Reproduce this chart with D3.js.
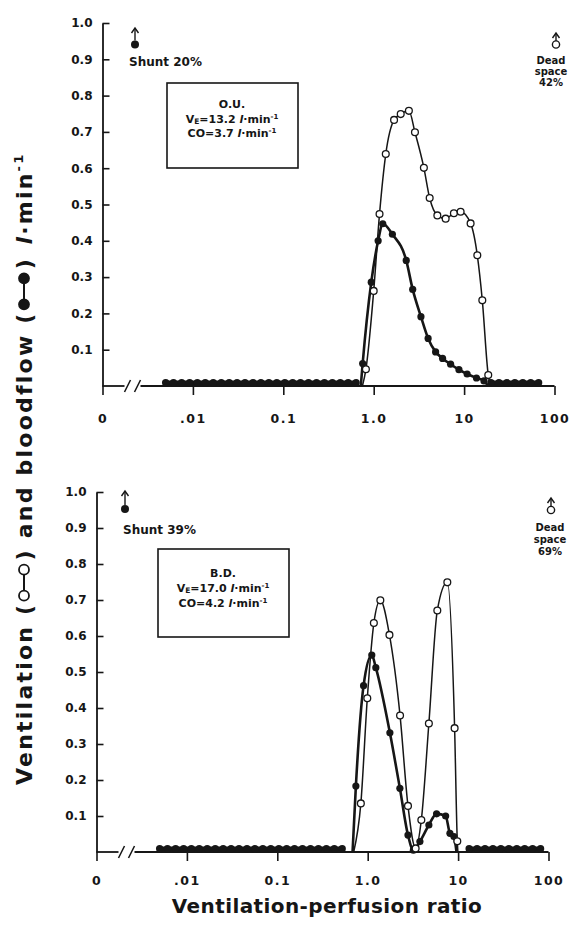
<!DOCTYPE html>
<html>
<head>
<meta charset="utf-8">
<script src="https://cdn.jsdelivr.net/npm/d3@7"></script>
<style>
  body { margin: 0; background: #fff; }
  svg { display: block; font-family: "DejaVu Sans", sans-serif; font-weight: bold; }
</style>
</head>
<body>
<div id="chart"></div>
<script>
// tick values and labels (0 drawn at the .001 position, axis broken after it)
var xTicks = [0.001, 0.01, 0.1, 1, 10, 100];
var xTickLabels = ['0', '.01', '0.1', '1.0', '10', '100'];
var yTicks = [0.1, 0.2, 0.3, 0.4, 0.5, 0.6, 0.7, 0.8, 0.9, 1.0];
var yTickLabels = ['0.1', '0.2', '0.3', '0.4', '0.5', '0.6', '0.7', '0.8', '0.9', '1.0'];

// subject info
var patients = ['O.U.', 'B.D.'];
var ventE = ['13.2', '17.0'];
var cardiacOutput = ['3.7', '4.2'];
var shuntPct = [20, 39];
var deadSpacePct = [42, 69];

// compartments with no flow, drawn as dots resting on the axis
var flatValue = 0.009;
var topFlatLow = [0.005, 0.0061, 0.0075, 0.0092, 0.0112, 0.0137, 0.0168, 0.0206, 0.0252, 0.0308, 0.0377, 0.0462, 0.0565, 0.0692, 0.0847, 0.104, 0.127, 0.155, 0.19, 0.233, 0.285, 0.349, 0.427, 0.522, 0.639];
var topFlatHigh = [19.85, 24.3, 29.7, 36.4, 44.6, 54.5, 66.7];
var botFlatLow = [0.005, 0.0061, 0.0075, 0.0092, 0.0112, 0.0137, 0.0168, 0.0206, 0.0252, 0.0308, 0.0377, 0.0462, 0.0565, 0.0692, 0.0847, 0.104, 0.127, 0.155, 0.19, 0.233, 0.285, 0.349, 0.427, 0.522];
var botFlatHigh = [13.25, 16.2, 19.85, 24.3, 29.7, 36.4, 44.6, 54.5, 66.7, 81.7];

// O.U. ventilation (open circles)
var topVentRatio = [0.82, 1.0, 1.16, 1.36, 1.68, 1.99, 2.45, 2.86, 3.59, 4.16, 5.06, 6.25, 7.71, 9.15, 11.8, 14.0, 15.9, 18.5];
var topVentValue = [0.046, 0.262, 0.474, 0.639, 0.733, 0.749, 0.758, 0.699, 0.601, 0.518, 0.470, 0.461, 0.476, 0.480, 0.448, 0.360, 0.236, 0.030];
var topVentEnds = [0.75, 19.6];
// O.U. bloodflow (filled)
var topBloodRatio = [0.755, 0.94, 1.12, 1.26, 1.61, 2.29, 2.70, 3.33, 4.00, 4.84, 5.78, 7.09, 8.77, 10.8, 13.7, 16.6];
var topBloodValue = [0.062, 0.286, 0.400, 0.447, 0.418, 0.346, 0.266, 0.191, 0.131, 0.094, 0.076, 0.060, 0.045, 0.033, 0.022, 0.014];
var topBloodEnds = [0.72, 18.5];

// B.D. ventilation (open circles)
var botVentRatio = [0.84, 0.99, 1.17, 1.38, 1.74, 2.28, 2.79, 3.39, 3.92, 4.75, 5.89, 7.60, 9.15, 9.8];
var botVentValue = [0.135, 0.427, 0.636, 0.699, 0.603, 0.379, 0.128, 0.010, 0.089, 0.357, 0.671, 0.749, 0.344, 0.030];
var botVentEnds = [0.70, 9.95];
// B.D. bloodflow (filled)
var botBloodRatio = [0.74, 0.90, 1.11, 1.23, 1.76, 2.27, 2.79, 3.2, 3.78, 4.75, 5.78, 7.28, 8.12, 8.99];
var botBloodValue = [0.183, 0.462, 0.547, 0.512, 0.331, 0.177, 0.047, 0.005, 0.029, 0.075, 0.106, 0.100, 0.052, 0.043];
var botBloodEnds = [0.68, 9.6];

var ink = '#161616';

var svg = d3.select('#chart').append('svg')
  .attr('width', 570)
  .attr('height', 929);

var panels = [
  {
    i: 0, xr: [102.5, 554.5], yr: [386, 23], labelPad: 19,
    flat: [topFlatLow, topFlatHigh],
    vent: {r: topVentRatio, v: topVentValue, ends: topVentEnds},
    blood: {r: topBloodRatio, v: topBloodValue, ends: topBloodEnds},
    box: {x: 167, y: 83, w: 131, h: 85, lineY: [108, 123, 137], cx: 232},
    shunt: {x: 135, cy: 44.5, top: 28, tx: 129, ty: 66},
    dead: {x: 556, cy: 44.5, top: 33, tx: 551, ty: [64, 75, 86]}
  },
  {
    i: 1, xr: [96.5, 548.5], yr: [852, 492], labelPad: 15,
    flat: [botFlatLow, botFlatHigh],
    vent: {r: botVentRatio, v: botVentValue, ends: botVentEnds},
    blood: {r: botBloodRatio, v: botBloodValue, ends: botBloodEnds},
    box: {x: 158, y: 549, w: 131, h: 88, lineY: [577, 592, 607], cx: 223},
    shunt: {x: 125, cy: 509, top: 491, tx: 123, ty: 534},
    dead: {x: 551, cy: 510, top: 498, tx: 550, ty: [531, 543, 555]}
  }
];

function lpmin(sel, value) {
  // writes " l·min-1" style unit after a value
  sel.append('tspan').text(value + ' ');
  sel.append('tspan').attr('font-style', 'italic').text('l');
  sel.append('tspan').text('·min');
  sel.append('tspan').attr('font-size', '7px').attr('dy', -4).text('-1');
}

function arrowUp(g, x, from, to) {
  g.append('line').attr('x1', x).attr('x2', x).attr('y1', from).attr('y2', to + 1)
    .attr('stroke', ink).attr('stroke-width', 1.4);
  g.append('path').attr('d', 'M' + (x - 3.5) + ',' + (to + 5) + 'L' + x + ',' + to + 'L' + (x + 3.5) + ',' + (to + 5))
    .attr('fill', 'none').attr('stroke', ink).attr('stroke-width', 1.4);
}

panels.forEach(function (p) {
  var x = d3.scaleLog().domain([0.001, 100]).range(p.xr);
  var y = d3.scaleLinear().domain([0, 1]).range(p.yr);
  var g = svg.append('g');

  // Y axis, ticks pointing inward
  var yAxis = d3.axisLeft(y)
    .tickValues(yTicks)
    .tickFormat(function (d, k) { return yTickLabels[k]; })
    .tickSize(-7)
    .tickSizeOuter(0)
    .tickPadding(10);
  g.append('g')
    .attr('transform', 'translate(' + p.xr[0] + ',0)')
    .call(yAxis)
    .call(function (a) {
      a.select('.domain').attr('stroke', ink).attr('stroke-width', 1.8);
      a.selectAll('.tick line').attr('stroke', ink).attr('stroke-width', 1.6);
      a.selectAll('.tick text').attr('fill', ink)
        .style('font-family', '"DejaVu Sans", sans-serif')
        .style('font-weight', 'bold').style('font-size', '12px');
    });

  // X axis, broken domain drawn by hand
  var xAxis = d3.axisBottom(x)
    .tickValues(xTicks)
    .tickFormat(function (d, k) { return xTickLabels[k]; })
    .tickSize(9)
    .tickPadding(p.labelPad);
  g.append('g')
    .attr('transform', 'translate(0,' + p.yr[0] + ')')
    .call(xAxis)
    .call(function (a) {
      a.select('.domain').remove();
      a.selectAll('.tick line').attr('stroke', ink).attr('stroke-width', 1.6);
      a.selectAll('.tick text').attr('fill', ink)
        .style('font-family', '"DejaVu Sans", sans-serif')
        .style('font-weight', 'bold').style('font-size', '12.5px')
        .style('letter-spacing', '1.5px');
    });
  var x0 = p.xr[0], yb = p.yr[0];
  g.append('line').attr('x1', x0).attr('x2', x0 + 22).attr('y1', yb).attr('y2', yb)
    .attr('stroke', ink).attr('stroke-width', 1.8);
  g.append('line').attr('x1', x0 + 38).attr('x2', p.xr[1]).attr('y1', yb).attr('y2', yb)
    .attr('stroke', ink).attr('stroke-width', 1.8);
  [x0 + 25, x0 + 35].forEach(function (cx) {
    g.append('line').attr('x1', cx - 3).attr('x2', cx + 3).attr('y1', yb + 6).attr('y2', yb - 6)
      .attr('stroke', ink).attr('stroke-width', 1.5);
  });

  // lines
  var line = d3.line()
    .curve(d3.curveMonotoneX)
    .x(function (d) { return x(d[0]); })
    .y(function (d) { return y(d[1]); });

  function series(s) {
    var pts = s.r.map(function (r, k) { return [r, s.v[k]]; });
    return [[s.ends[0], 0]].concat(pts, [[s.ends[1], 0]]);
  }

  // zero-flow runs: dots joined by a heavy line so they read as a band
  p.flat.forEach(function (run) {
    g.append('path')
      .datum(run.map(function (r) { return [r, flatValue]; }))
      .attr('d', d3.line().x(function (d) { return x(d[0]); }).y(function (d) { return y(d[1]); }))
      .attr('fill', 'none').attr('stroke', ink).attr('stroke-width', 4.5);
    g.selectAll(null).data(run).enter().append('circle')
      .attr('cx', function (d) { return x(d); })
      .attr('cy', y(flatValue))
      .attr('r', 3.7)
      .attr('fill', ink);
  });

  g.append('path').datum(series(p.blood))
    .attr('d', line).attr('fill', 'none').attr('stroke', ink).attr('stroke-width', 2.6);
  g.append('path').datum(series(p.vent))
    .attr('d', line).attr('fill', 'none').attr('stroke', ink).attr('stroke-width', 1.5);

  g.selectAll('.blood').data(p.blood.r).enter().append('circle')
    .attr('class', 'blood')
    .attr('cx', function (d) { return x(d); })
    .attr('cy', function (d, k) { return y(p.blood.v[k]); })
    .attr('r', 3.6)
    .attr('fill', ink);

  g.selectAll('.vent').data(p.vent.r).enter().append('circle')
    .attr('class', 'vent')
    .attr('cx', function (d) { return x(d); })
    .attr('cy', function (d, k) { return y(p.vent.v[k]); })
    .attr('r', 3.4)
    .attr('fill', '#fff')
    .attr('stroke', ink)
    .attr('stroke-width', 1.3);

  // subject box
  var b = p.box;
  g.append('rect').attr('x', b.x).attr('y', b.y).attr('width', b.w).attr('height', b.h)
    .attr('fill', 'none').attr('stroke', ink).attr('stroke-width', 1.6);
  var bt = g.append('g').attr('fill', ink).attr('text-anchor', 'middle').style('font-size', '11px');
  bt.append('text').attr('x', b.cx).attr('y', b.lineY[0]).text(patients[p.i]);
  var l2 = bt.append('text').attr('x', b.cx).attr('y', b.lineY[1]);
  l2.append('tspan').text('V');
  l2.append('tspan').attr('font-size', '7.5px').attr('dy', 1).text('E');
  l2.append('tspan').attr('dy', -1).text('=');
  lpmin(l2, ventE[p.i]);
  var l3 = bt.append('text').attr('x', b.cx).attr('y', b.lineY[2]);
  l3.append('tspan').text('CO=');
  lpmin(l3, cardiacOutput[p.i]);

  // shunt marker
  var sh = p.shunt;
  arrowUp(g, sh.x, sh.cy - 4, sh.top);
  g.append('circle').attr('cx', sh.x).attr('cy', sh.cy).attr('r', 4).attr('fill', ink);
  g.append('text').attr('x', sh.tx).attr('y', sh.ty).attr('fill', ink)
    .style('font-size', '12px').text('Shunt ' + shuntPct[p.i] + '%');

  // dead space marker
  var ds = p.dead;
  arrowUp(g, ds.x, ds.cy - 3.6, ds.top);
  g.append('circle').attr('cx', ds.x).attr('cy', ds.cy).attr('r', 3.6)
    .attr('fill', '#fff').attr('stroke', ink).attr('stroke-width', 1.4);
  var dt = g.append('g').attr('fill', ink).attr('text-anchor', 'middle').style('font-size', '10px');
  ['Dead', 'space', deadSpacePct[p.i] + '%'].forEach(function (s, k) {
    dt.append('text').attr('x', ds.tx).attr('y', ds.ty[k]).text(s);
  });
});

// X axis title
svg.append('text')
  .attr('x', 327).attr('y', 913)
  .attr('text-anchor', 'middle')
  .attr('fill', ink)
  .style('font-size', '20px')
  .style('letter-spacing', '0.4px')
  .text('Ventilation-perfusion ratio');

// Y axis title with the two series symbols, stretched to the scanned length
var yt = svg.append('g')
  .attr('transform', 'translate(32,785) rotate(-90)')
  .attr('fill', ink)
  .style('font-size', '22px');
var titleLength = 625;

function drawYTitle(spacing) {
  yt.selectAll('*').remove();
  yt.style('letter-spacing', spacing + 'px');
  var cursor = 0, chars = 0;

  function addText(str) {
    var t = yt.append('text').attr('x', cursor).text(str);
    cursor += t.node().getComputedTextLength();
    chars += str.length;
  }

  function addSymbol(filled) {
    var cy = -8;
    yt.append('line').attr('x1', cursor + 7).attr('x2', cursor + 33).attr('y1', cy).attr('y2', cy)
      .attr('stroke', ink).attr('stroke-width', 2);
    [cursor + 7, cursor + 33].forEach(function (cx) {
      yt.append('circle').attr('cx', cx).attr('cy', cy).attr('r', 5)
        .attr('fill', filled ? ink : '#fff').attr('stroke', ink).attr('stroke-width', 1.8);
    });
    cursor += 40 + spacing;
  }

  addText('Ventilation (');
  addSymbol(false);
  addText(') and bloodflow (');
  addSymbol(true);
  addText(')');
  cursor += 10 + spacing;
  var unit = yt.append('text').attr('x', cursor);
  unit.append('tspan').attr('font-style', 'italic').text('l');
  unit.append('tspan').text('·min');
  unit.append('tspan').attr('font-size', '13px').attr('dy', -9).text('-1');
  cursor += unit.node().getComputedTextLength();
  chars += 7;
  return {end: cursor, chars: chars};
}

var first = drawYTitle(0);
drawYTitle(Math.max(0, (titleLength - first.end) / first.chars));
</script>
</body>
</html>
